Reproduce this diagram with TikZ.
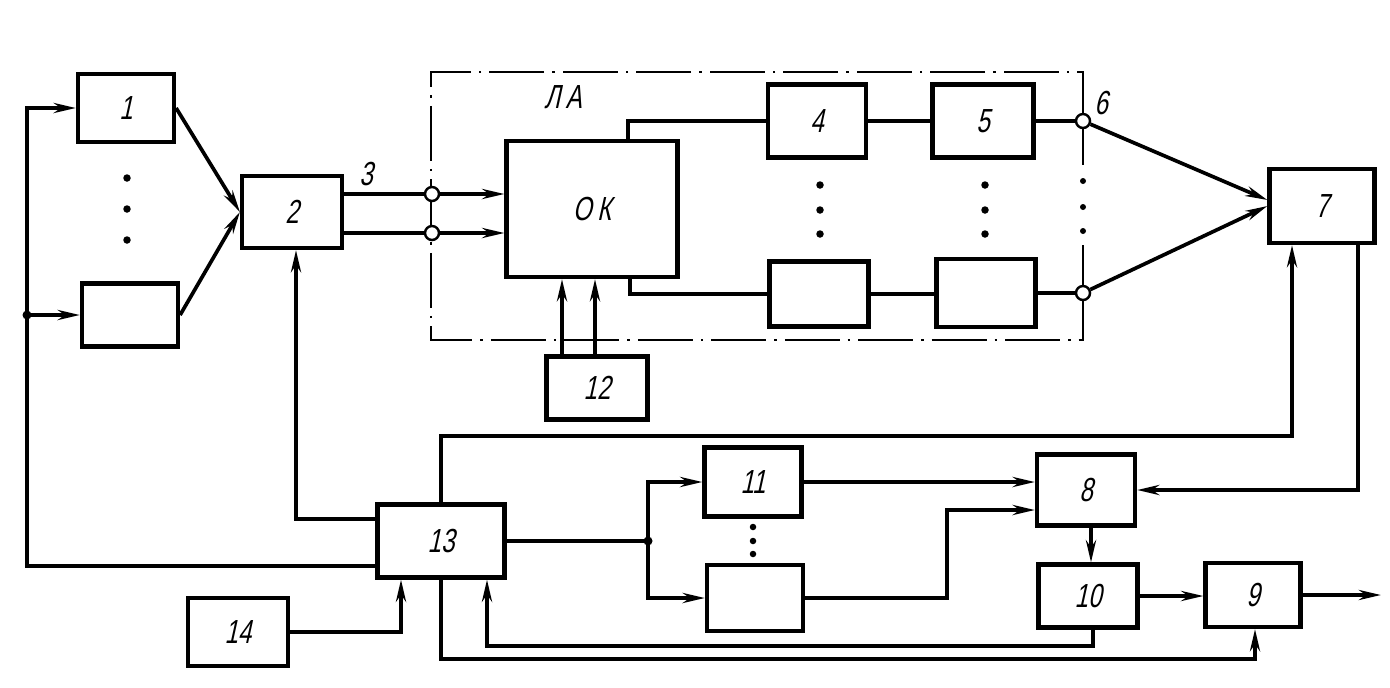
\documentclass[tikz,border=0pt]{standalone}
\usepackage{fontspec}
\newfontfamily\drawfont[FakeStretch=0.72,FakeSlant=0.22]{Liberation Sans}
\usetikzlibrary{arrows.meta}
\tikzset{
	blk/.style 2 args={draw,line width=2.4pt,minimum width=#1*0.02cm,minimum height=#2*0.02cm,inner sep=0pt,font=\drawfont\fontsize{19}{21}\selectfont},
	ln/.style={line width=2.1pt},
	arr/.style={line width=2.1pt,-{Stealth[length=0.44cm,width=0.2cm,inset=0.14cm]}},
	term/.style={circle,draw,fill=white,line width=1.4pt,minimum size=0.28cm,inner sep=0pt},
	lbl/.style={font=\drawfont\fontsize{19}{21}\selectfont},
	frame/.style={line width=1.5pt,dash pattern=on 1.1cm off 0.16cm on 0.05cm off 0.16cm}
}

\begin{document}
\begin{tikzpicture}[x=0.02cm,y=-0.02cm]
	\useasboundingbox (0,0) rectangle (1390,687);
	\node[blk={96}{68}] (b1) at (126,108) {1};
	\node[blk={96}{63}] (b1n) at (130,315) {};
	\node[blk={100}{72}] (b2) at (292,212) {2};
	\node[blk={171}{136}] (ok) at (592,209) {О\,К};
	\node[blk={98}{73}] (b4) at (817,121) {4};
	\node[blk={101}{73}] (b5) at (983,121) {5};
	\node[blk={99}{65}] (b4n) at (819,294) {};
	\node[blk={99}{68}] (b5n) at (986,293) {};
	\node[blk={101}{63}] (b12) at (597,388) {12};
	\node[blk={105}{74}] (b7) at (1322,206) {7};
	\node[blk={98}{71}] (b8) at (1086,490) {8};
	\node[blk={99}{63}] (b10) at (1088,596) {10};
	\node[blk={95}{64}] (b9) at (1253,595) {9};
	\node[blk={97}{69}] (b11) at (753,482) {11};
	\node[blk={96}{66}] (b11n) at (755,598) {};
	\node[blk={127}{73}] (b13) at (441,541) {13};
	\node[blk={100}{68}] (b14) at (238,632) {14};
	\coordinate (bus) at (27,108);
	\coordinate (j1) at (27,315);
	\coordinate (j2) at (648,541);
	\coordinate (out) at (1381,595);
	\draw[frame] (1083,121) |- (431,72) |- (1083,340) -- (1083,293);
	\draw[line width=1.5pt] (1083,121) -- (1083,165);
	\draw[line width=1.5pt] (1083,245) -- (1083,293);
	\node[term] (c1) at (432,194) {};
	\node[term] (c2) at (432,233) {};
	\node[term] (c6) at (1083,121) {};
	\node[term] (c7) at (1083,293) {};
	\node[lbl] (la) at (563,97) {Л\,А};
	\node[lbl] (n3) at (366,174) {3};
	\node[lbl] (n6) at (1101,103) {6};
	\foreach \y in {178,209,240}{
		\fill (127,\y) circle (0.075cm);
	}
	\foreach \x in {820,985}{
		\foreach \y in {185,210,234}{
			\fill (\x,\y) circle (0.075cm);
		}
	}
	\foreach \y in {181,207,231}{
		\fill (1083,\y) circle (0.06cm);
	}
	\foreach \y in {527,541,554}{
		\fill (753,\y) circle (0.065cm);
	}
	\fill (j1) circle (0.09cm);
	\fill (j2) circle (0.09cm);
	\draw[arr] (b13.west |- 0,566) -| (bus) -- (b1.west);
	\draw[arr] (j1) -- (j1 -| b1n.west);
	\draw[arr] (b1.east) -- (b2.west);
	\draw[arr] (b1n.east) -- (b2.west);
	\draw[ln] (b2.east |- c1) -- (c1);
	\draw[ln] (b2.east |- c2) -- (c2);
	\draw[arr] (c1) -- (c1 -| ok.west);
	\draw[arr] (c2) -- (c2 -| ok.west);
	\draw[ln] (ok.north -| 628,0) |- (b4.west);
	\draw[ln] (b4.east) -- (b4.east -| b5.west);
	\draw[ln] (b5.east) -- (c6);
	\draw[ln] (ok.south -| 630,0) |- (b4n.west);
	\draw[ln] (b4n.east) -- (b4n.east -| b5n.west);
	\draw[ln] (b5n.east) -- (c7);
	\draw[arr] (c6) -- ([yshift=0.12cm]b7.west);
	\draw[arr] (c7) -- (b7.west);
	\draw[arr] (b12.north -| 562,0) -- (ok.south -| 562,0);
	\draw[arr] (b12.north -| 595,0) -- (ok.south -| 595,0);
	\draw[arr] (b13.north) -- (b13.north |- 0,436) -| (b7.south -| 1292,0);
	\draw[arr] (b7.south -| 1358,0) |- (b8.east);
	\draw[ln] (b13.east) -- (j2);
	\draw[arr] (j2) |- (b11.west);
	\draw[arr] (j2) |- (b11n.west);
	\draw[arr] (b11.east) -- (b11.east -| b8.west);
	\draw[arr] (b11n.east) -| (947,510) -- (b8.west |- 0,510);
	\draw[arr] (b8.south -| 1091,0) -- (b10.north -| 1091,0);
	\draw[arr] (b10.east) -- (b10.east -| b9.west);
	\draw[arr] (b9.east) -- (out);
	\draw[arr] (b10.south -| 1093,0) |- (487,646) -- (b13.south -| 487,0);
	\draw[arr] (b13.south) |- (1255,659) -- (b9.south -| 1255,0);
	\draw[arr] (b14.east) -| (b13.south -| 401,0);
	\draw[arr] (b13.west |- 0,519) -| (b2.south -| 296,0);
\end{tikzpicture}
\end{document}
